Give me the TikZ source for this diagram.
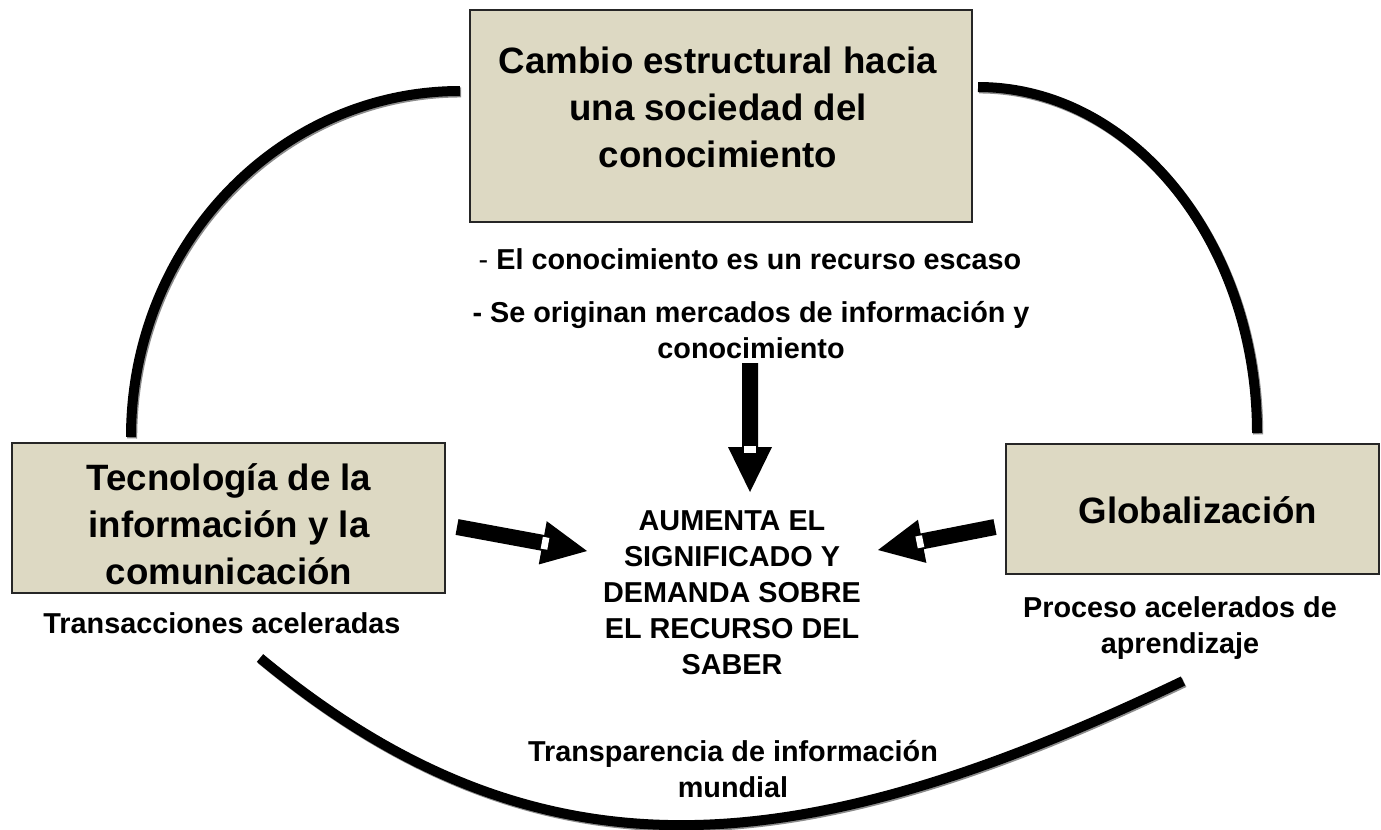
\documentclass[tikz,border=0pt]{standalone}
\usepackage{fontspec}
\setmainfont{Liberation Sans}
\usetikzlibrary{calc}
\definecolor{boxfill}{HTML}{DDD9C3}
\tikzset{
  box/.style={draw=black!85, line width=1.5pt, fill=boxfill, inner sep=0pt},
  bigtxt/.style={font=\fontsize{27.5pt}{35.25pt}\selectfont\bfseries, align=center, inner sep=0pt},
  smalltxt/.style={font=\fontsize{21.6pt}{27pt}\selectfont\bfseries, align=center, inner sep=0pt},
  arcline/.style={line width=7.5pt, black},
  arcshadow/.style={line width=7.5pt, black!45, transform canvas={xshift=0.9pt, yshift=-1.1pt}},
}
\newcommand\blockarrow[2]{%
  \coordinate (hb) at ($(#2)!33.75pt!(#1)$);
  \fill[black] ($(#1)!6pt!90:(#2)$) -- ($(hb)!6pt!-90:(#1)$) -- ($(hb)!16.5pt!-90:(#1)$) -- (#2)
     -- ($(hb)!16.5pt!90:(#1)$) -- ($(hb)!6pt!90:(#1)$) -- ($(#1)!6pt!-90:(#2)$) -- cycle;
  \coordinate (n1) at ($(#2)!34.5pt!(#1)$);
  \coordinate (n2) at ($(#2)!29.5pt!(#1)$);
  \fill[white] ($(n1)!4.5pt!90:(n2)$) -- ($(n2)!4.5pt!-90:(n1)$) -- ($(n2)!4.5pt!90:(n1)$) -- ($(n1)!4.5pt!-90:(n2)$) -- cycle;
}
\begin{document}
\begin{tikzpicture}[x=0.75pt,y=-0.75pt]
\fill[white] (0,0) rectangle (1381,829);
\useasboundingbox (0,0) rectangle (1381,829);

% cycle arcs
\coordinate (a1s) at (131,437);
\coordinate (a2s) at (978,87);
\coordinate (a3s) at (260,658);
\coordinate (a3e) at (1183,681);
\draw[arcshadow] (a1s) arc[start angle=180, end angle=270, x radius=329, y radius=346];
\draw[arcline] (a1s) arc[start angle=180, end angle=270, x radius=329, y radius=346];
\draw[arcshadow] (a2s) arc[start angle=270, end angle=360, x radius=279, y radius=346];
\draw[arcline] (a2s) arc[start angle=270, end angle=360, x radius=279, y radius=346];
\draw[arcshadow] (a3s) .. controls (540,890) and (800,864) .. (a3e);
\draw[arcline] (a3s) .. controls (540,890) and (800,864) .. (a3e);

% boxes
\node[box, minimum width=376.5pt, minimum height=159pt] (top) at (721,116) {};
\node[box, minimum width=324.75pt, minimum height=112.5pt] (left) at (228.5,518) {};
\node[box, minimum width=279.75pt, minimum height=97.5pt] (right) at (1192.5,509) {};

\node[bigtxt] (ttop) at (718,107) {Cambio estructural hacia\\una sociedad del\\conocimiento};
\node[bigtxt] (tleft) at (229,524) {Tecnología de la\\información y la\\comunicación};
\node[bigtxt] (tright) at (1198,510) {Globalización};

% texts
\node[smalltxt] (k1) at (750,259) {{\mdseries -} El conocimiento es un recurso escaso};
\node[smalltxt] (k2) at (751,330) {- Se originan mercados de información y\\conocimiento};
\node[smalltxt] (centro) at (732,593) {AUMENTA EL\\SIGNIFICADO Y\\DEMANDA SOBRE\\EL RECURSO DEL\\SABER};
\node[smalltxt] (tl) at (222,623) {Transacciones aceleradas};
\node[smalltxt] (tr) at (1180,628) {Proceso acelerados de\\aprendizaje};
\node[smalltxt] (tb) at (733,769) {Transparencia de información\\mundial};

% block arrows
\coordinate (dt) at (750,363); \coordinate (dh) at (750,492);
\coordinate (lt) at (457,527); \coordinate (lh) at (587,551);
\coordinate (rt) at (995,527); \coordinate (rh) at (878,550);
\blockarrow{dt}{dh}
\blockarrow{lt}{lh}
\blockarrow{rt}{rh}
\end{tikzpicture}
\end{document}
